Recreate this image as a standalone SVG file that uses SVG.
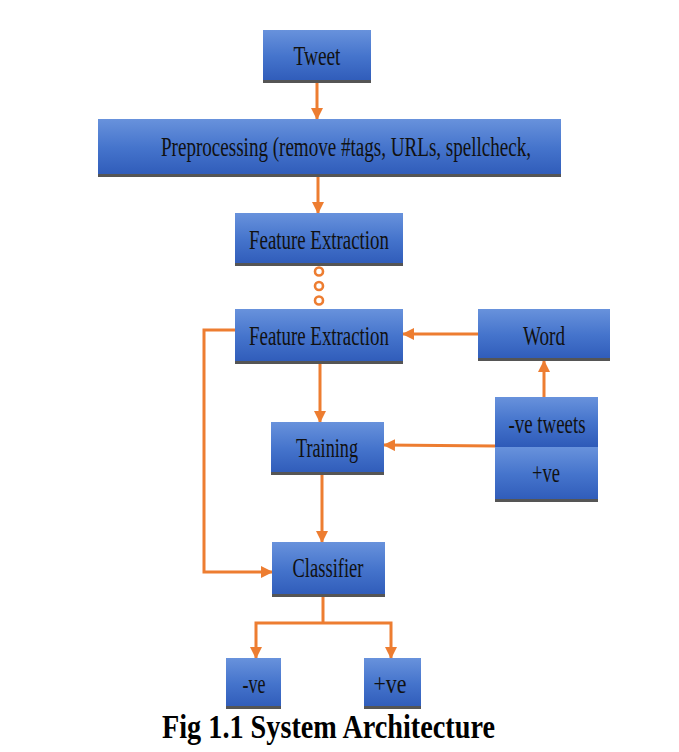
<svg xmlns="http://www.w3.org/2000/svg" width="679" height="752" viewBox="0 0 679 752">
<defs>
  <linearGradient id="bg" x1="0" y1="0" x2="0" y2="1">
    <stop offset="0" stop-color="#6892dc"/>
    <stop offset="0.5" stop-color="#4574cc"/>
    <stop offset="1" stop-color="#2e5ab8"/>
  </linearGradient>
  <marker id="ah" markerUnits="userSpaceOnUse" markerWidth="12" markerHeight="12" viewBox="0 0 12 12" refX="11" refY="6" orient="auto">
    <path d="M0,0 L12,6 L0,12 Z" fill="#ed7d31"/>
  </marker>
</defs>
<style>
  .box { fill: url(#bg); }
  .edge { fill: #555555; }
  .lbl { font-family: "Liberation Serif", "Times New Roman", serif; font-size: 28px; fill: #111111; text-anchor: middle; }
  .conn { fill: none; stroke: #ed7d31; stroke-width: 3; }
  .arr { marker-end: url(#ah); }
  .ring { fill: #ffffff; stroke: #ed7d31; stroke-width: 2.6; }
  .cap { font-family: "Liberation Serif", "Times New Roman", serif; font-size: 33px; font-weight: bold; fill: #000; }
</style>
<rect width="679" height="752" fill="#ffffff"/>

<g id="connectors">
  <line class="conn arr" x1="317" y1="83" x2="317" y2="119"/>
  <line class="conn arr" x1="318" y1="177" x2="318" y2="213"/>
  <circle class="ring" cx="319" cy="271.5" r="4"/>
  <circle class="ring" cx="319" cy="286" r="4"/>
  <circle class="ring" cx="319" cy="300.5" r="4"/>
  <line class="conn arr" x1="478" y1="334" x2="403" y2="334"/>
  <line class="conn arr" x1="544" y1="397" x2="544" y2="361"/>
  <line class="conn arr" x1="320" y1="364" x2="320" y2="422"/>
  <line class="conn arr" x1="495" y1="446" x2="384" y2="445"/>
  <line class="conn arr" x1="322" y1="475" x2="322" y2="542"/>
  <polyline class="conn arr" points="235,330 204,330 204,572 272,572"/>
  <line class="conn" x1="323" y1="597" x2="323" y2="623"/>
  <polyline class="conn arr" points="323,623 256,623 256,658"/>
  <polyline class="conn arr" points="323,623 391,623 391,658"/>
</g>

<g id="tweet">
  <rect class="box" x="263" y="30" width="108" height="53"/>
  <rect class="edge" x="263" y="80" width="108" height="3"/>
  <text class="lbl" x="317" y="65" textLength="47" lengthAdjust="spacingAndGlyphs">Tweet</text>
</g>

<g id="preprocessing">
  <rect class="box" x="98" y="119" width="463" height="58"/>
  <rect class="edge" x="98" y="174" width="463" height="3"/>
  <text class="lbl" transform="translate(161,156) scale(0.72,1)" x="0" y="0" style="text-anchor:start" textLength="514" lengthAdjust="spacingAndGlyphs">Preprocessing (remove #tags, URLs, spellcheck,</text>
</g>

<g id="feature1">
  <rect class="box" x="235" y="213" width="168" height="53"/>
  <rect class="edge" x="235" y="263" width="168" height="3"/>
  <text class="lbl" x="319" y="249" textLength="140" lengthAdjust="spacingAndGlyphs">Feature Extraction</text>
</g>

<g id="feature2">
  <rect class="box" x="235" y="309" width="168" height="55"/>
  <rect class="edge" x="235" y="361" width="168" height="3"/>
  <text class="lbl" x="319" y="345" textLength="140" lengthAdjust="spacingAndGlyphs">Feature Extraction</text>
</g>

<g id="word">
  <rect class="box" x="478" y="309" width="132" height="52"/>
  <rect class="edge" x="478" y="358" width="132" height="3"/>
  <text class="lbl" x="544" y="345" textLength="42" lengthAdjust="spacingAndGlyphs">Word</text>
</g>

<g id="tweets">
  <rect class="box" x="495" y="397" width="103" height="50"/>
  <rect class="box" x="495" y="447" width="103" height="55"/>
  <rect class="edge" x="495" y="499" width="103" height="3"/>
  <text class="lbl" x="547" y="433" textLength="77" lengthAdjust="spacingAndGlyphs">-ve tweets</text>
  <text class="lbl" x="546" y="482" textLength="28" lengthAdjust="spacingAndGlyphs">+ve</text>
</g>

<g id="training">
  <rect class="box" x="271" y="422" width="113" height="53"/>
  <rect class="edge" x="271" y="472" width="113" height="3"/>
  <text class="lbl" x="327" y="457" textLength="62" lengthAdjust="spacingAndGlyphs">Training</text>
</g>

<g id="classifier">
  <rect class="box" x="272" y="542" width="113" height="55"/>
  <rect class="edge" x="272" y="594" width="113" height="3"/>
  <text class="lbl" x="328" y="577" textLength="71" lengthAdjust="spacingAndGlyphs">Classifier</text>
</g>

<g id="neg">
  <rect class="box" x="226" y="658" width="55" height="51"/>
  <rect class="edge" x="226" y="706" width="55" height="3"/>
  <text class="lbl" x="254" y="693" textLength="23" lengthAdjust="spacingAndGlyphs">-ve</text>
</g>

<g id="pos">
  <rect class="box" x="364" y="658" width="57" height="51"/>
  <rect class="edge" x="364" y="706" width="57" height="3"/>
  <text class="lbl" x="390" y="693" textLength="33" lengthAdjust="spacingAndGlyphs">+ve</text>
</g>

<text class="cap" x="162" y="738" textLength="333" lengthAdjust="spacingAndGlyphs">Fig 1.1 System Architecture</text>
</svg>
